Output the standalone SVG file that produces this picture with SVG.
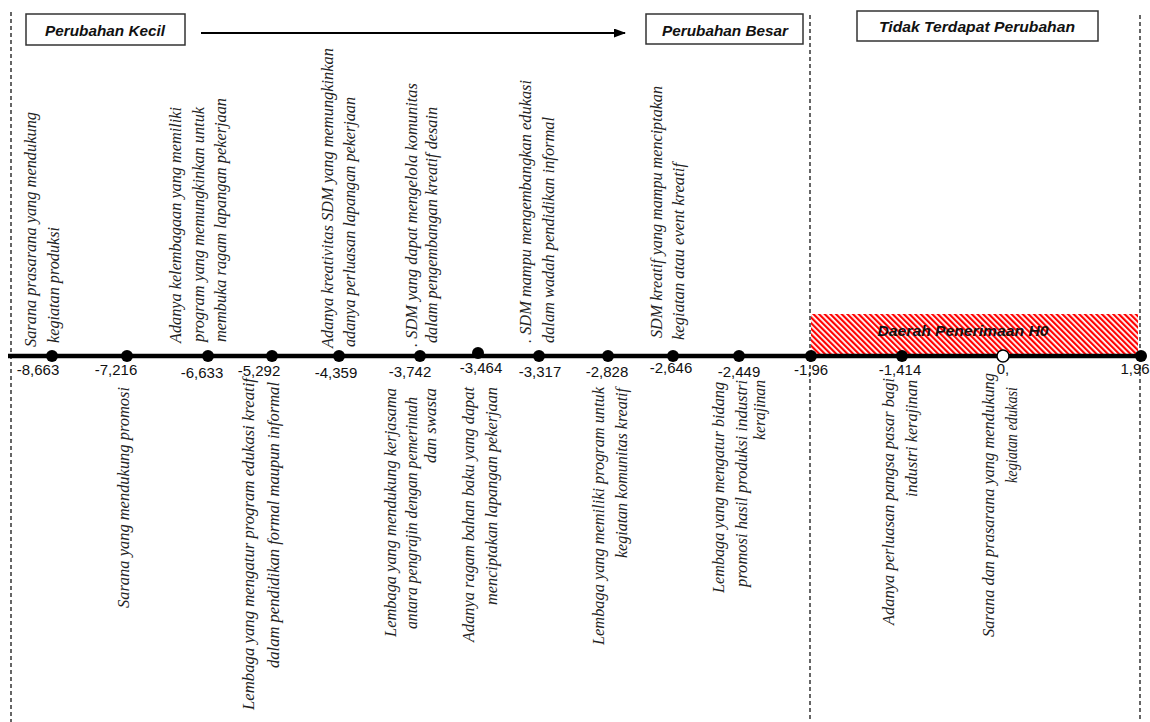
<svg xmlns="http://www.w3.org/2000/svg" width="1150" height="722" viewBox="0 0 1150 722">
<style>
.bg{fill:#fff}
.dash{stroke:#000;stroke-width:1.2;stroke-dasharray:4 3;fill:none}
.box{fill:#fff;stroke:#333;stroke-width:1.5}
.head{font-family:"Liberation Sans",Arial,sans-serif;font-weight:bold;font-style:italic;font-size:15px;fill:#111;text-anchor:middle}
.num{font-family:"Liberation Sans",Arial,sans-serif;font-size:15px;fill:#111;text-anchor:middle}
.desc{font-family:"Liberation Serif","Times New Roman",serif;font-style:italic;font-size:16px;fill:#222}
.up{text-anchor:start}
.dn{text-anchor:end}
.dot{fill:#000}
.axis{stroke:#000;stroke-width:4.5}
</style>
<defs>
<pattern id="hatch" patternUnits="userSpaceOnUse" width="4" height="4" patternTransform="rotate(-45)">
<rect x="0" y="0" width="4" height="4" fill="#fff"/>
<rect x="0" y="0" width="2.2" height="4" fill="#f00"/>
</pattern>
<marker id="arr" markerWidth="12" markerHeight="9" refX="11" refY="4.5" orient="auto" markerUnits="userSpaceOnUse">
<path d="M0,0 L12,4.5 L0,9 Z" fill="#000"/>
</marker>
</defs>
<rect class="bg" x="0" y="0" width="1150" height="722"/>

<g id="zones">
<line class="dash" x1="11" y1="12" x2="11" y2="722"/>
<line class="dash" x1="810" y1="15" x2="810" y2="722"/>
<line class="dash" x1="1140" y1="15" x2="1140" y2="722"/>
<rect x="811" y="314" width="327" height="41" fill="url(#hatch)"/>
<text class="head" x="963" y="336" fill="#222" textLength="171" lengthAdjust="spacingAndGlyphs">Daerah Penerimaan H0</text>
</g>

<g id="header-kecil">
<rect class="box" x="26" y="14" width="159" height="31"/>
<text class="head" x="105" y="36" textLength="120" lengthAdjust="spacingAndGlyphs">Perubahan Kecil</text>
</g>
<g id="header-besar">
<rect class="box" x="646" y="14" width="157" height="30"/>
<text class="head" x="725" y="36" textLength="126" lengthAdjust="spacingAndGlyphs">Perubahan Besar</text>
</g>
<g id="header-tidak">
<rect class="box" x="857" y="11" width="241" height="30"/>
<text class="head" x="977" y="32" textLength="196" lengthAdjust="spacingAndGlyphs">Tidak Terdapat Perubahan</text>
</g>

<g id="connectors">
<line x1="201" y1="33" x2="625" y2="33" stroke="#000" stroke-width="2" marker-end="url(#arr)"/>
<line class="axis" x1="8" y1="356" x2="1146" y2="356"/>
</g>

<g id="n-8663">
<circle class="dot" cx="52" cy="356" r="6"/>
<text class="num" x="38" y="375">-8,663</text>
<text class="desc up" transform="translate(36,347) rotate(-90)" textLength="235" lengthAdjust="spacingAndGlyphs">Sarana prasarana yang mendukung</text>
<text class="desc up" transform="translate(59,343) rotate(-90)" textLength="116" lengthAdjust="spacingAndGlyphs">kegiatan produksi</text>
</g>

<g id="n-7216">
<circle class="dot" cx="127" cy="356" r="6"/>
<text class="num" x="116" y="375">-7,216</text>
<text class="desc dn" transform="translate(129,387) rotate(-90)" textLength="221" lengthAdjust="spacingAndGlyphs">Sarana yang mendukung promosi</text>
</g>

<g id="n-6633">
<circle class="dot" cx="208" cy="356" r="6"/>
<text class="num" x="202" y="378">-6,633</text>
<text class="desc up" transform="translate(181,343) rotate(-90)" textLength="236" lengthAdjust="spacingAndGlyphs">Adanya kelembagaan yang memiliki</text>
<text class="desc up" transform="translate(204,342) rotate(-90)" textLength="235" lengthAdjust="spacingAndGlyphs">program yang memungkinkan untuk</text>
<text class="desc up" transform="translate(226,342) rotate(-90)" textLength="244" lengthAdjust="spacingAndGlyphs">membuka ragam lapangan pekerjaan</text>
</g>

<g id="n-5292">
<circle class="dot" cx="272" cy="356" r="6"/>
<text class="num" x="259" y="376">-5,292</text>
<text class="desc dn" transform="translate(254,378) rotate(-90)" textLength="332" lengthAdjust="spacingAndGlyphs">Lembaga yang mengatur program edukasi kreatif</text>
<text class="desc dn" transform="translate(279,382) rotate(-90)" textLength="286" lengthAdjust="spacingAndGlyphs">dalam pendidikan formal maupun informal</text>
</g>

<g id="n-4359">
<circle class="dot" cx="339" cy="356" r="6"/>
<text class="num" x="336" y="378">-4,359</text>
<text class="desc up" transform="translate(333,348) rotate(-90)" textLength="300" lengthAdjust="spacingAndGlyphs">Adanya kreativitas  SDM yang memungkinkan</text>
<text class="desc up" transform="translate(355,347) rotate(-90)" textLength="250" lengthAdjust="spacingAndGlyphs">adanya perluasan lapangan pekerjaan</text>
</g>

<g id="n-3742">
<circle class="dot" cx="420" cy="356" r="6"/>
<text class="num" x="410" y="377">-3,742</text>
<text class="desc up" transform="translate(417,347) rotate(-90)" textLength="264" lengthAdjust="spacingAndGlyphs">. SDM yang dapat mengelola  komunitas</text>
<text class="desc up" transform="translate(437,343) rotate(-90)" textLength="236" lengthAdjust="spacingAndGlyphs">dalam pengembangan kreatif desain</text>
<text class="desc dn" transform="translate(396,388) rotate(-90)" textLength="249" lengthAdjust="spacingAndGlyphs">Lembaga yang  mendukung kerjasama</text>
<text class="desc dn" transform="translate(417,397) rotate(-90)" textLength="232" lengthAdjust="spacingAndGlyphs">antara pengrajin dengan pemerintah</text>
<text class="desc dn" transform="translate(436,388) rotate(-90)" textLength="75" lengthAdjust="spacingAndGlyphs">dan swasta</text>
</g>

<g id="n-3464">
<circle class="dot" cx="478" cy="353" r="6"/>
<text class="num" x="481" y="373">-3,464</text>
<text class="desc dn" transform="translate(474,387) rotate(-90)" textLength="255" lengthAdjust="spacingAndGlyphs">Adanya ragam bahan baku yang dapat</text>
<text class="desc dn" transform="translate(497,387) rotate(-90)" textLength="218" lengthAdjust="spacingAndGlyphs">menciptakan lapangan pekerjaan</text>
</g>

<g id="n-3317">
<circle class="dot" cx="539" cy="356" r="6"/>
<text class="num" x="540" y="377">-3,317</text>
<text class="desc up" transform="translate(531,343) rotate(-90)" textLength="263" lengthAdjust="spacingAndGlyphs">. SDM mampu mengembangkan edukasi</text>
<text class="desc up" transform="translate(554,343) rotate(-90)" textLength="226" lengthAdjust="spacingAndGlyphs">dalam wadah pendidikan  informal</text>
</g>

<g id="n-2828">
<circle class="dot" cx="608" cy="356" r="6"/>
<text class="num" x="607" y="377">-2,828</text>
<text class="desc dn" transform="translate(604,387) rotate(-90)" textLength="258" lengthAdjust="spacingAndGlyphs">Lembaga yang  memiliki program untuk</text>
<text class="desc dn" transform="translate(627,388) rotate(-90)" textLength="170" lengthAdjust="spacingAndGlyphs">kegiatan komunitas kreatif</text>
</g>

<g id="n-2646">
<circle class="dot" cx="673" cy="356" r="6"/>
<text class="num" x="671" y="373">-2,646</text>
<text class="desc up" transform="translate(662,338) rotate(-90)" textLength="252" lengthAdjust="spacingAndGlyphs">SDM kreatif yang mampu menciptakan</text>
<text class="desc up" transform="translate(684,340) rotate(-90)" textLength="177" lengthAdjust="spacingAndGlyphs">kegiatan atau event  kreatif</text>
</g>

<g id="n-2449">
<circle class="dot" cx="739" cy="356" r="6"/>
<text class="num" x="739" y="377">-2,449</text>
<text class="desc dn" transform="translate(724,382) rotate(-90)" textLength="211" lengthAdjust="spacingAndGlyphs">Lembaga yang  mengatur  bidang</text>
<text class="desc dn" transform="translate(747,380) rotate(-90)" textLength="207" lengthAdjust="spacingAndGlyphs">promosi hasil produksi industri</text>
<text class="desc dn" transform="translate(765,380) rotate(-90)" textLength="60" lengthAdjust="spacingAndGlyphs">kerajinan</text>
</g>

<g id="n-196neg">
<circle class="dot" cx="811" cy="356" r="6"/>
<text class="num" x="811" y="375">-1,96</text>
</g>

<g id="n-1414">
<circle class="dot" cx="902" cy="356" r="6"/>
<text class="num" x="900" y="375">-1,414</text>
<text class="desc dn" transform="translate(894,378) rotate(-90)" textLength="247" lengthAdjust="spacingAndGlyphs">Adanya  perluasan pangsa pasar bagi</text>
<text class="desc dn" transform="translate(917,380) rotate(-90)" textLength="117" lengthAdjust="spacingAndGlyphs">industri kerajinan</text>
</g>

<g id="n-0">
<circle cx="1003" cy="356" r="6" fill="#fff" stroke="#000" stroke-width="1.5"/>
<text class="num" x="1003" y="374">0,</text>
<text class="desc dn" transform="translate(994,373) rotate(-90)" textLength="264" lengthAdjust="spacingAndGlyphs">Sarana dan prasarana yang mendukung</text>
<text class="desc dn" transform="translate(1017,387) rotate(-90)" textLength="96" lengthAdjust="spacingAndGlyphs">kegiatan edukasi</text>
</g>

<g id="n-196">
<circle class="dot" cx="1141" cy="356" r="6"/>
<text class="num" x="1135" y="374">1,96</text>
</g>
</svg>
